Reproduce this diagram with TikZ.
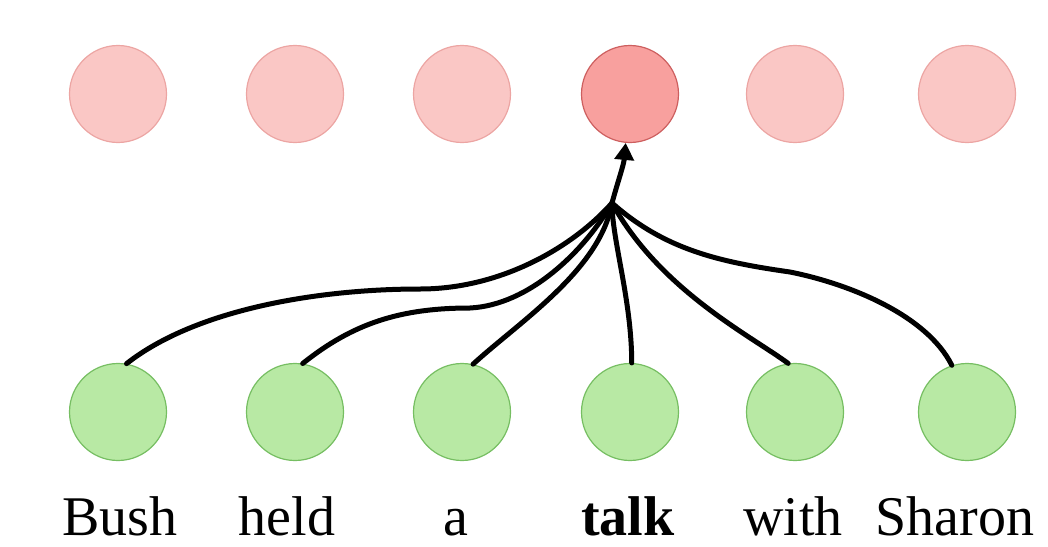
\documentclass[tikz,border=0pt]{standalone}
\usepackage{fontspec}
\setmainfont{Liberation Serif}
\usetikzlibrary{arrows.meta}
\definecolor{topfill}{RGB}{250,199,197}
\definecolor{topdraw}{RGB}{236,165,163}
\definecolor{hifill}{RGB}{248,160,158}
\definecolor{hidraw}{RGB}{205,95,95}
\definecolor{botfill}{RGB}{184,233,164}
\definecolor{botdraw}{RGB}{118,190,98}
\begin{document}
\begin{tikzpicture}[x=1pt,y=-1pt,
  topnode/.style={circle,minimum size=97pt,inner sep=0pt,draw=topdraw,fill=topfill,line width=1.2pt},
  hinode/.style={circle,minimum size=97pt,inner sep=0pt,draw=hidraw,fill=hifill,line width=1.2pt},
  botnode/.style={circle,minimum size=97pt,inner sep=0pt,draw=botdraw,fill=botfill,line width=1.2pt},
  word/.style={anchor=base,inner sep=0pt,font=\fontsize{56}{60}\selectfont},
  link/.style={line width=5pt,black,line cap=round}]
\useasboundingbox (0,0) rectangle (1048,546);
% top row
\node[topnode] (t1) at (118,94) {};
\node[topnode] (t2) at (295,94) {};
\node[topnode] (t3) at (462,94) {};
\node[hinode]  (t4) at (630,94) {};
\node[topnode] (t5) at (795,94) {};
\node[topnode] (t6) at (967,94) {};
% bottom row
\node[botnode] (b1) at (118,412) {};
\node[botnode] (b2) at (295,412) {};
\node[botnode] (b3) at (462,412) {};
\node[botnode] (b4) at (630,412) {};
\node[botnode] (b5) at (795,412) {};
\node[botnode] (b6) at (967,412) {};
% words
\node[word] (l1) at (120,535) {Bush};
\node[word] (l2) at (287,535) {held};
\node[word] (l3) at (456,535) {a};
\node[word] (l4) at (628,535) {\bfseries talk};
\node[word] (l5) at (793,535) {with};
\node[word] (l6) at (955,535) {Sharon};
% merge point
\coordinate (m) at (612,203);
\draw[link] (b1.80) .. controls +(70,-55) and +(-100,0) .. (420,289)
                    .. controls +(80,0) and +(-40,45) .. (m);
\draw[link] (b2.81) .. controls +(50,-40) and +(-70,0) .. (470,308)
                    .. controls +(60,-3) and +(-27,47) .. (m);
\draw[link] (b3.77) .. controls +(47,-43) and +(-12,67) .. (m);
\draw[link] (b4.88) .. controls +(0,-63) and +(0,37) .. (m);
\draw[link] (b5.98) .. controls +(-38,-28) and +(48,87) .. (m);
\draw[link] (b6.108) .. controls +(-25,-50) and +(60,12) .. (790,272)
                     .. controls +(-70,-10) and +(53,47) .. (m);
\draw[link,-{Triangle[length=17pt,width=19pt]}] (m) .. controls +(6,-22) and +(-2,22) .. (t4.265);
\end{tikzpicture}
\end{document}
